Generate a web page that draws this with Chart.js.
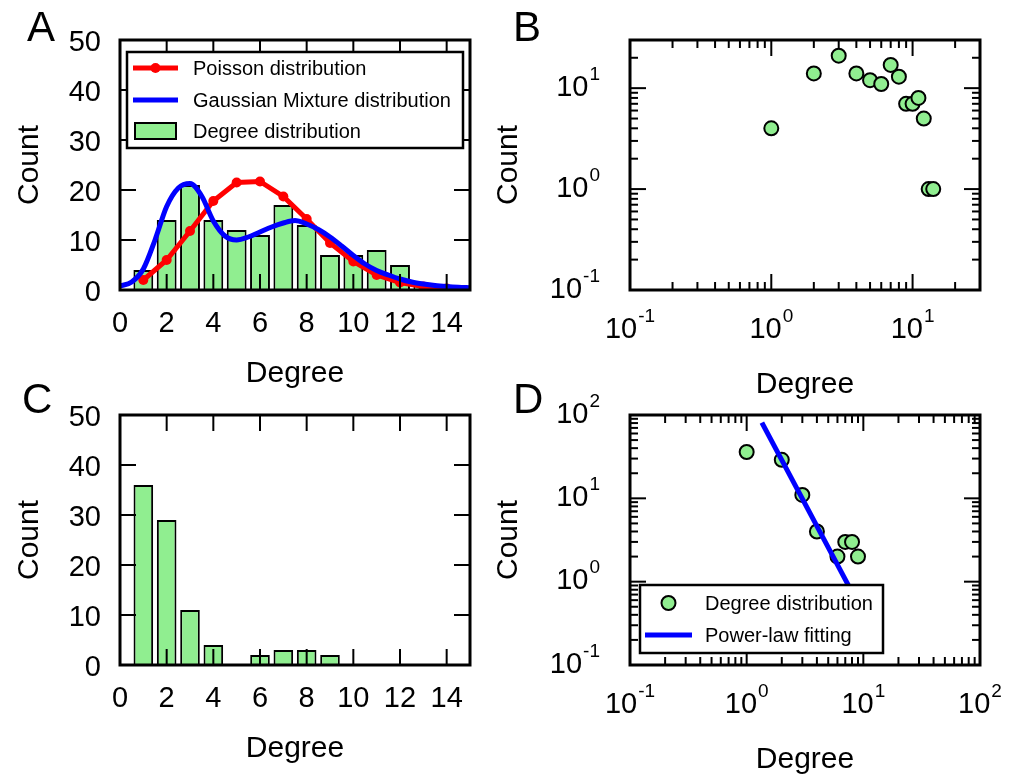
<!DOCTYPE html>
<html>
<head>
<meta charset="utf-8">
<script src="https://cdn.jsdelivr.net/npm/chart.js@4.4.1/dist/chart.umd.min.js"></script>
<style>
  body { margin: 0; background: #fff; }
  #wrap { position: relative; width: 1011px; height: 775px; }
  canvas { position: absolute; left: 0; top: 0; }
</style>
</head>
<body>
<div id="wrap">
  <canvas id="panelA" width="1011" height="775"></canvas>
  <canvas id="panelB" width="1011" height="775"></canvas>
  <canvas id="panelC" width="1011" height="775"></canvas>
  <canvas id="panelD" width="1011" height="775"></canvas>
</div>
<script>
// data
const degreeA = [1, 2, 3, 4, 5, 6, 7, 8, 9, 10, 11, 12, 13, 14]
const countA = [4, 14, 21, 14, 12, 11, 17, 13, 7, 7, 8, 5, 1, 1]
const poissonX = [1, 2, 3, 4, 5, 6, 7, 8, 9, 10, 11, 12, 13, 14]
const poissonY = [2.0, 6.0, 11.8, 17.8, 21.5, 21.7, 18.7, 14.2, 9.4, 5.7, 3.0, 1.5, 0.7, 0.3]
const gaussX = [0, 0.5, 1, 1.5, 2, 2.5, 3, 3.5, 4, 4.5, 5, 5.5, 6, 6.5, 7, 7.5, 8, 8.5, 9, 9.5, 10, 10.5, 11, 11.5, 12, 12.5, 13, 13.5, 14, 14.5, 15]
const gaussY = [0.8, 1.6, 4.2, 10, 16.7, 20.4, 21.3, 18.8, 13.8, 10.8, 10, 10.6, 11.6, 12.6, 13.4, 13.9, 13.2, 12.1, 10.6, 8.8, 6.9, 5.2, 3.9, 3.0, 2.2, 1.6, 1.2, 0.9, 0.7, 0.55, 0.45]

const degreeC = [1, 2, 3, 4, 6, 7, 8, 9]
const countC = [36, 29, 11, 4, 2, 3, 3, 2]
const fitX = [1.35, 9]
const fitY = [81, 0.55]

const linXTicks = [0, 2, 4, 6, 8, 10, 12, 14]
const linYTicks = [0, 10, 20, 30, 40, 50]
const logTicksB = [0.1, 1, 10]
const logTicksD = [0.1, 1, 10, 100]

const W = 1011, H = 775
const FONT = '"Liberation Sans", Arial, Helvetica, sans-serif'
const GREEN = '#90ee90'

function pts(xs, ys) { return xs.map((x, i) => ({ x: x, y: ys[i] })) }

function logMarks(min, max) {
  const out = []
  for (let k = Math.floor(Math.log10(min)) ; k <= Math.ceil(Math.log10(max)); k++) {
    for (let m = 1; m <= 9; m++) {
      const v = m * Math.pow(10, k)
      if (v >= min * 0.999 && v <= max * 1.001) out.push({ v: v, major: m === 1 })
    }
  }
  return out
}

function drawPow(ctx, v, x, base, align) {
  const e = String(Math.round(Math.log10(v)))
  ctx.font = '29px ' + FONT
  const w1 = ctx.measureText('10').width
  ctx.font = '19px ' + FONT
  const w2 = ctx.measureText(e).width
  const total = w1 + w2 + 1
  const x0 = align === 'center' ? x - total / 2 : x - total
  ctx.textAlign = 'left'
  ctx.textBaseline = 'alphabetic'
  ctx.font = '29px ' + FONT
  ctx.fillText('10', x0, base)
  ctx.font = '19px ' + FONT
  ctx.fillText(e, x0 + w1 + 1, base - 16)
}

function drawLegend(ctx, lg) {
  const b = lg.box
  ctx.fillStyle = '#fff'
  ctx.fillRect(b[0], b[1], b[2] - b[0], b[3] - b[1])
  ctx.strokeStyle = '#000'
  ctx.lineWidth = 2.5
  ctx.strokeRect(b[0], b[1], b[2] - b[0], b[3] - b[1])
  lg.items.forEach((it, i) => {
    const y = lg.rows[i]
    const h0 = lg.handle[0], h1 = lg.handle[1]
    if (it.kind === 'line' || it.kind === 'linedot') {
      ctx.strokeStyle = it.color
      ctx.lineWidth = 5
      ctx.beginPath(); ctx.moveTo(h0, y); ctx.lineTo(h1, y); ctx.stroke()
      if (it.kind === 'linedot') {
        ctx.fillStyle = it.color
        ctx.beginPath(); ctx.arc((h0 + h1) / 2, y, 5, 0, Math.PI * 2); ctx.fill()
      }
    } else if (it.kind === 'patch') {
      ctx.fillStyle = GREEN
      ctx.fillRect(h0 + 2, y - 8, h1 - h0 - 4, 16)
      ctx.strokeStyle = '#000'; ctx.lineWidth = 2
      ctx.strokeRect(h0 + 2, y - 8, h1 - h0 - 4, 16)
    } else if (it.kind === 'dot') {
      ctx.fillStyle = GREEN
      ctx.strokeStyle = '#000'; ctx.lineWidth = 2
      ctx.beginPath(); ctx.arc((h0 + h1) / 2, y, 7, 0, Math.PI * 2); ctx.fill(); ctx.stroke()
    }
    ctx.fillStyle = '#000'
    ctx.font = '20px ' + FONT
    ctx.textAlign = 'left'
    ctx.textBaseline = 'alphabetic'
    ctx.fillText(it.label, lg.textX, y + 7)
  })
}

// frame, inward ticks, tick labels, titles, panel letter, legend
function deco(o) {
  return {
    id: 'deco',
    afterDraw(chart) {
      const ctx = chart.ctx
      const a = chart.chartArea
      const xs = chart.scales.x, ys = chart.scales.y
      ctx.save()
      ctx.strokeStyle = '#000'
      ctx.lineWidth = 2
      const seg = (x1, y1, x2, y2) => { ctx.beginPath(); ctx.moveTo(x1, y1); ctx.lineTo(x2, y2); ctx.stroke() }
      const xm = o.log ? logMarks(xs.min, xs.max) : linXTicks.map(v => ({ v: v, major: true }))
      const ym = o.log ? logMarks(ys.min, ys.max) : linYTicks.map(v => ({ v: v, major: true }))
      xm.forEach(t => {
        const p = xs.getPixelForValue(t.v), L = t.major ? 16 : 8
        seg(p, a.bottom, p, a.bottom - L); seg(p, a.top, p, a.top + L)
      })
      ym.forEach(t => {
        const p = ys.getPixelForValue(t.v), L = t.major ? 16 : 8
        seg(a.left, p, a.left + L, p); seg(a.right, p, a.right - L, p)
      })
      ctx.lineWidth = 3
      ctx.strokeRect(a.left, a.top, a.right - a.left, a.bottom - a.top)

      ctx.fillStyle = '#000'
      if (o.log) {
        o.xLabels.forEach(v => drawPow(ctx, v, xs.getPixelForValue(v), a.bottom + 48, 'center'))
        o.yLabels.forEach(v => drawPow(ctx, v, a.left - 30, ys.getPixelForValue(v) + 7.5, 'right'))
      } else {
        ctx.font = '29px ' + FONT
        ctx.textBaseline = 'alphabetic'
        ctx.textAlign = 'center'
        linXTicks.forEach(v => ctx.fillText(String(v), xs.getPixelForValue(v), a.bottom + 42))
        ctx.textAlign = 'right'
        linYTicks.forEach(v => ctx.fillText(String(v), a.left - 19, ys.getPixelForValue(v) + 10.5))
      }

      ctx.font = '30px ' + FONT
      ctx.textAlign = 'center'
      ctx.textBaseline = 'alphabetic'
      ctx.fillText('Degree', (a.left + a.right) / 2, a.bottom + (o.log ? 103 : 92))
      ctx.save()
      ctx.translate(o.countX, (a.top + a.bottom) / 2)
      ctx.rotate(-Math.PI / 2)
      ctx.fillText('Count', 0, 0)
      ctx.restore()

      ctx.font = '42px ' + FONT
      ctx.textAlign = 'left'
      ctx.fillText(o.letter, o.letterX, o.letterY)

      if (o.legend) drawLegend(ctx, o.legend)
      ctx.restore()
    }
  }
}

function opts(l, t, r, b, scales) {
  return {
    responsive: false,
    animation: false,
    devicePixelRatio: 1,
    events: [],
    layout: { padding: { left: l, top: t, right: W - r, bottom: H - b } },
    plugins: { legend: { display: false }, tooltip: { enabled: false } },
    scales: scales
  }
}

const linScales = {
  x: { type: 'linear', min: 0, max: 15, display: false, offset: false },
  y: { type: 'linear', min: 0, max: 50, display: false }
}

// A
new Chart(document.getElementById('panelA'), {
  type: 'bar',
  data: {
    datasets: [
      { type: 'line', label: 'Gaussian Mixture distribution', data: pts(gaussX, gaussY),
        borderColor: '#0000ff', borderWidth: 5, pointRadius: 0, cubicInterpolationMode: 'monotone', order: 1 },
      { type: 'line', label: 'Poisson distribution', data: pts(poissonX, poissonY),
        borderColor: '#ff0000', backgroundColor: '#ff0000', borderWidth: 5, pointRadius: 5,
        pointBorderWidth: 0, tension: 0, order: 2 },
      { type: 'bar', label: 'Degree distribution', data: pts(degreeA, countA),
        backgroundColor: GREEN, borderColor: '#000', borderWidth: 2,
        barPercentage: 0.85, categoryPercentage: 1, order: 3 }
    ]
  },
  options: opts(120, 40, 470, 290, linScales),
  plugins: [deco({
    letter: 'A', letterX: 27, letterY: 41, countX: 38,
    legend: {
      box: [127, 52, 463, 148], rows: [68, 100, 131], handle: [133, 178], textX: 193,
      items: [
        { label: 'Poisson distribution', kind: 'linedot', color: '#ff0000' },
        { label: 'Gaussian Mixture distribution', kind: 'line', color: '#0000ff' },
        { label: 'Degree distribution', kind: 'patch' }
      ]
    }
  })]
})

// B
new Chart(document.getElementById('panelB'), {
  type: 'scatter',
  data: {
    datasets: [
      { label: 'Degree distribution', data: pts(degreeA, countA),
        backgroundColor: GREEN, borderColor: '#000', borderWidth: 2, pointRadius: 7 }
    ]
  },
  options: opts(630, 40, 980, 290, {
    x: { type: 'logarithmic', min: 0.1, max: 30, display: false },
    y: { type: 'logarithmic', min: 0.1, max: 30, display: false }
  }),
  plugins: [deco({ log: true, xLabels: logTicksB, yLabels: logTicksB,
    letter: 'B', letterX: 513, letterY: 41, countX: 517 })]
})

// C
new Chart(document.getElementById('panelC'), {
  type: 'bar',
  data: {
    datasets: [
      { label: 'Degree distribution', data: pts(degreeC, countC),
        backgroundColor: GREEN, borderColor: '#000', borderWidth: 2,
        barPercentage: 0.84, categoryPercentage: 1 }
    ]
  },
  options: opts(120, 415, 470, 665, linScales),
  plugins: [deco({ letter: 'C', letterX: 22, letterY: 413, countX: 38 })]
})

// D
new Chart(document.getElementById('panelD'), {
  type: 'scatter',
  data: {
    datasets: [
      { type: 'line', label: 'Power-law fitting', data: pts(fitX, fitY),
        borderColor: '#0000ff', borderWidth: 5, pointRadius: 0, order: 0 },
      { label: 'Degree distribution', data: pts(degreeC, countC),
        backgroundColor: GREEN, borderColor: '#000', borderWidth: 2, pointRadius: 7, order: 1 }
    ]
  },
  options: opts(630, 415, 980, 665, {
    x: { type: 'logarithmic', min: 0.1, max: 100, display: false },
    y: { type: 'logarithmic', min: 0.1, max: 100, display: false }
  }),
  plugins: [deco({ log: true, xLabels: logTicksD, yLabels: logTicksD,
    letter: 'D', letterX: 513, letterY: 413, countX: 517,
    legend: {
      box: [640, 585, 883, 653], rows: [603, 635], handle: [645, 692], textX: 705,
      items: [
        { label: 'Degree distribution', kind: 'dot' },
        { label: 'Power-law fitting', kind: 'line', color: '#0000ff' }
      ]
    }
  })]
})
</script>
</body>
</html>
